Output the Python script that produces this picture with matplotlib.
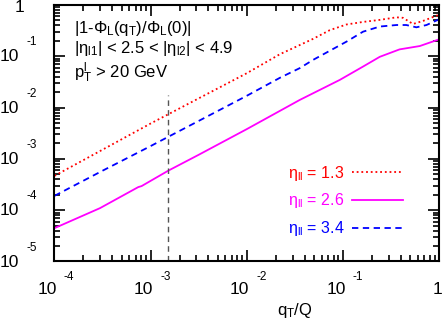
import numpy as np
import matplotlib
matplotlib.use("Agg")
import matplotlib.pyplot as plt
from matplotlib.ticker import FixedLocator, LogLocator, NullFormatter

plt.rcParams['font.family'] = ['Liberation Sans', 'DejaVu Sans']
plt.rcParams['mathtext.fontset'] = 'custom'
plt.rcParams['mathtext.rm'] = 'Liberation Sans'
plt.rcParams['mathtext.it'] = 'Liberation Sans'
plt.rcParams['mathtext.default'] = 'regular'

# ── 数据 (log10 读数) ──────────────────────────────
eta_labels = ["1.3", "2.6", "3.4"]

lx_red = [-4.0, -3.5, -3.0, -2.5, -2.0, -1.656, -1.448, -1.31, -1.136, -0.963,
          -0.79, -0.616, -0.443, -0.374, -0.27, -0.166, 0.0]
ly_red = [-3.33, -2.82, -2.31, -1.82, -1.33, -0.96, -0.78, -0.66, -0.49, -0.38,
          -0.33, -0.29, -0.24, -0.25, -0.37, -0.31, -0.19]

lx_mag = [-4.0, -3.527, -3.129, -3.094, -2.817, -2.5, -2.21, -2.0, -1.448, -1.032,
          -0.79, -0.616, -0.41, -0.20, 0.0]
ly_mag = [-4.35, -3.96, -3.55, -3.53, -3.23, -2.92, -2.63, -2.42, -1.85, -1.46,
          -1.20, -1.01, -0.865, -0.80, -0.67]

lx_blue = [-4.0, -3.5, -3.0, -2.817, -2.5, -2.0, -1.656, -1.448, -1.31, -0.963,
           -0.79, -0.616, -0.443, -0.34, -0.235, -0.13, 0.0]
ly_blue = [-3.72, -3.23, -2.75, -2.57, -2.26, -1.77, -1.42, -1.23, -1.07, -0.715,
           -0.52, -0.42, -0.39, -0.39, -0.435, -0.39, -0.28]

qcut = 1.5e-3
qcut_top = 1.8e-2

xticks = [1e-4, 1e-3, 1e-2, 1e-1, 1]
xtick_exp = ["-4", "-3", "-2", "-1", ""]
yticks = [1e-5, 1e-4, 1e-3, 1e-2, 1e-1, 1]
ytick_exp = ["-5", "-4", "-3", "-2", "-1", ""]

# ── 绘图 ────────────────────────────────────────────
fig = plt.figure(figsize=(4.42, 3.25), dpi=100)
ax = fig.add_axes([0.1233, 0.1954, 0.8699, 0.7892])

ax.plot(10 ** np.array(lx_red), 10 ** np.array(ly_red), color="#ff0000",
        ls=(0, (1, 1.6)), lw=1.3, label=r"$\eta_{ll}$ = " + eta_labels[0])
ax.plot(10 ** np.array(lx_mag), 10 ** np.array(ly_mag), color="#ff00ff",
        ls="-", lw=1.3, label=r"$\eta_{ll}$ = " + eta_labels[1])
ax.plot(10 ** np.array(lx_blue), 10 ** np.array(ly_blue), color="#0000ff",
        ls=(0, (3.5, 2.5)), lw=1.3, label=r"$\eta_{ll}$ = " + eta_labels[2])
ax.plot([qcut, qcut], [1e-5, qcut_top], color="#555555", ls=(0, (4, 3)), lw=1.0)

ax.set_xscale("log")
ax.set_yscale("log")
ax.set_xlim(1e-4, 1)
ax.set_ylim(1e-5, 1)

ax.xaxis.set_major_locator(FixedLocator(xticks))
ax.yaxis.set_major_locator(FixedLocator(yticks))
ax.xaxis.set_minor_locator(LogLocator(base=10, subs=np.arange(2, 10), numticks=20))
ax.yaxis.set_minor_locator(LogLocator(base=10, subs=np.arange(2, 10), numticks=20))
ax.xaxis.set_minor_formatter(NullFormatter())
ax.yaxis.set_minor_formatter(NullFormatter())

ax.tick_params(which="both", direction="in", top=True, right=True, width=1.2,
               labelbottom=False, labelleft=False)
ax.tick_params(which="major", length=8)
ax.tick_params(which="minor", length=4.5)
for s in ax.spines.values():
    s.set_linewidth(1.5)

# 刻度标签: "10" + 抬高的指数 (老式 PAW 风格)
for t, e in zip(xticks, xtick_exp):
    if e:
        ax.annotate("10", xy=(t, 0), xycoords=("data", "axes fraction"),
                    xytext=(-5, -20), textcoords="offset points",
                    ha="center", va="center", fontsize=12.5, annotation_clip=False)
        ax.annotate(e, xy=(t, 0), xycoords=("data", "axes fraction"),
                    xytext=(10.5, -11), textcoords="offset points",
                    ha="center", va="center", fontsize=8.5, annotation_clip=False)
    else:
        ax.annotate("1", xy=(t, 0), xycoords=("data", "axes fraction"),
                    xytext=(-1, -20), textcoords="offset points",
                    ha="center", va="center", fontsize=12.5, annotation_clip=False)

for t, e in zip(yticks, ytick_exp):
    if e:
        ax.annotate("10", xy=(0, t), xycoords=("axes fraction", "data"),
                    xytext=(-32.5, -0.5), textcoords="offset points",
                    ha="center", va="center", fontsize=12.5, annotation_clip=False)
        ax.annotate(e, xy=(0, t), xycoords=("axes fraction", "data"),
                    xytext=(-16.5, 10), textcoords="offset points",
                    ha="center", va="center", fontsize=8.5, annotation_clip=False)
    else:
        ax.annotate("1", xy=(0, t), xycoords=("axes fraction", "data"),
                    xytext=(-25, -1.5), textcoords="offset points",
                    ha="center", va="center", fontsize=12.5, annotation_clip=False)

ax.set_xlabel("$q_T$/Q", fontsize=12)
ax.xaxis.set_label_coords(0.625, -0.155)

ax.text(0.05, 0.91, "|1-$\\Phi_L(q_T)/\\Phi_L(0)$|", transform=ax.transAxes,
        fontsize=12, va="center")
ax.text(0.05, 0.83, "|$\\eta_{l1}$| < 2.5 < |$\\eta_{l2}$| < 4.9", transform=ax.transAxes,
        fontsize=12, va="center")
ax.text(0.05, 0.737, "$p_T^l$ > 20 GeV", transform=ax.transAxes,
        fontsize=12, va="center")

leg = ax.legend(loc="lower right", bbox_to_anchor=(0.945, 0.035), frameon=False,
                markerfirst=False, labelcolor="linecolor", fontsize=11.5,
                handlelength=3.2, handletextpad=0.5, labelspacing=0.55)

fig.savefig("out.png", dpi=100)
